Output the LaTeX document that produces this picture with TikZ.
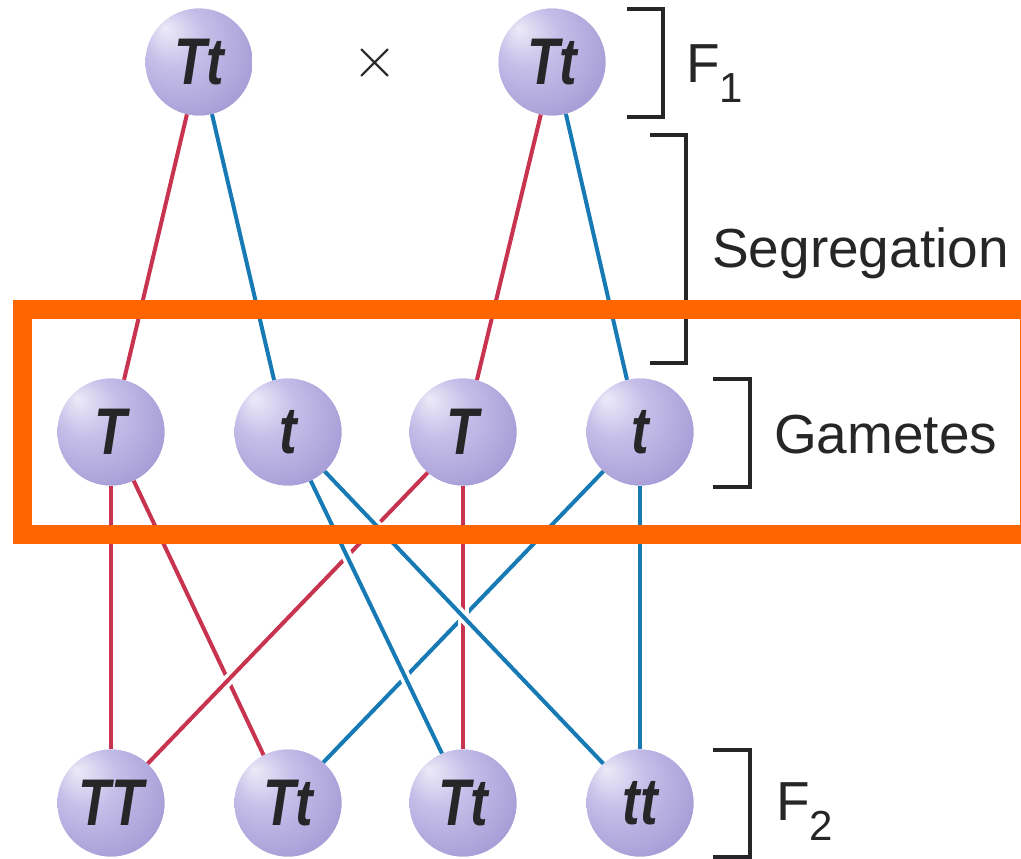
\documentclass[tikz,border=0pt]{standalone}
\usepackage{fontspec}
\setmainfont{Liberation Sans}
\definecolor{sphA}{RGB}{236,234,248}
\definecolor{sphB}{RGB}{198,191,233}
\definecolor{sphC}{RGB}{166,156,214}
\definecolor{sphD}{RGB}{130,118,188}
\definecolor{redl}{RGB}{200,52,80}
\definecolor{bluel}{RGB}{24,122,180}
\definecolor{orng}{RGB}{255,102,0}
\definecolor{inkc}{RGB}{38,38,40}
\pgfdeclareradialshading{sphere}{\pgfpoint{-16bp}{16bp}}{color(0bp)=(sphA); color(14bp)=(sphB); color(34bp)=(sphC); color(52bp)=(sphD)}
\tikzset{
  ballnode/.style={circle, minimum size=107pt, inner sep=0pt, shading=sphere, text=inkc,
    font=\fontsize{66}{66}\selectfont\bfseries\itshape},
  redline/.style={draw=redl, line width=4pt, preaction={draw=white, line width=11pt}},
  blueline/.style={draw=bluel, line width=4pt, preaction={draw=white, line width=11pt}},
  bracketline/.style={draw=inkc, line width=3.5pt},
  labeltext/.style={anchor=base west, inner sep=0pt, text=inkc, font=\fontsize{55}{60}\selectfont},
  framebox/.style={draw=orng, line width=19pt}
}
\newcommand{\bl}[1]{\scalebox{0.8}[1]{#1}}
\newcommand{\subs}[1]{\raisebox{-20pt}{\fontsize{42}{42}\selectfont #1}}
\begin{document}
\begin{tikzpicture}[x=1pt,y=-1pt]
\useasboundingbox (0,0) rectangle (1021,859);
% nodes (positions)
\path (199,62) node[ballnode] (top1) {\phantom{Tt}};
\path (552,62) node[ballnode] (top2) {\phantom{Tt}};
\path (111,432) node[ballnode] (g1) {\phantom{T}};
\path (288,432) node[ballnode] (g2) {\phantom{t}};
\path (463,432) node[ballnode] (g3) {\phantom{T}};
\path (640,432) node[ballnode] (g4) {\phantom{t}};
\path (111,803) node[ballnode] (f1) {\phantom{TT}};
\path (288,803) node[ballnode] (f2) {\phantom{Tt}};
\path (463,803) node[ballnode] (f3) {\phantom{Tt}};
\path (640,803) node[ballnode] (f4) {\phantom{tt}};
% connectors
\path[redline] (top1.-103) -- (g1.76);
\path[blueline] (top1.-76) -- (g2.105);
\path[redline] (top2.-102) -- (g3.75);
\path[blueline] (top2.-75) -- (g4.104);
\path[redline] (g1.-90) -- (f1.90);
\path[blueline] (g4.-90) -- (f4.90);
\path[redline] (g1.-65) -- (f2.117);
\path[redline] (g3.-131) -- (f1.47);
\path[blueline] (g4.-133) -- (f2.49);
\path[redline] (g3.-90) -- (f3.90);
\path[blueline] (g2.-47) -- (f4.133);
\path[blueline] (g2.-65) -- (f3.113);
% balls on top
\node[ballnode] at (top1) {\bl{Tt}};
\node[ballnode] at (top2) {\bl{Tt}};
\node[ballnode] at (g1) {\bl{T}};
\node[ballnode] at (g2) {\bl{t}};
\node[ballnode] at (g3) {\bl{T}};
\node[ballnode] at (g4) {\bl{t}};
\node[ballnode] at (f1) {\bl{TT}};
\node[ballnode] at (f2) {\bl{Tt}};
\node[ballnode] at (f3) {\bl{Tt}};
\node[ballnode] at (f4) {\bl{tt}};
% cross
\node[text=inkc, inner sep=0pt] (cross) at (375,63) {\scalebox{5.8}{$\times$}};
% brackets
\draw[bracketline] (627,9) -- (663,9) -- (663,117) -- (627,117);
\draw[bracketline] (650,135) -- (686,135) -- (686,363) -- (650,363);
\draw[bracketline] (713,379) -- (750,379) -- (750,487) -- (713,487);
\draw[bracketline] (713,750) -- (750,750) -- (750,857) -- (713,857);
% labels
\node[labeltext] (lf1) at (686,83) {F\subs{1}};
\node[labeltext] (lseg) at (712,267) {Segregation};
\node[labeltext] (lgam) at (774,453) {Gametes};
\node[labeltext] (lf2) at (776,820) {F\subs{2}};
% highlight frame
\draw[framebox] (22.5,309.5) rectangle (1029,534);
\end{tikzpicture}
\end{document}
